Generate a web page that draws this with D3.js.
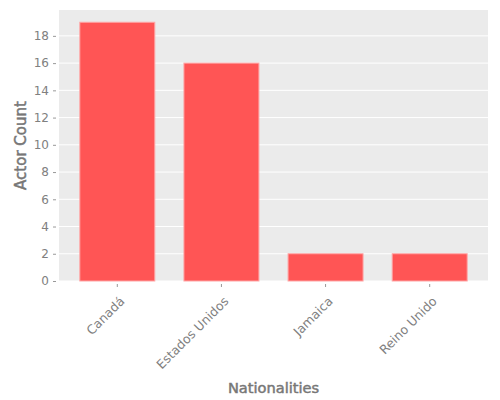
<!DOCTYPE html>
<html>
<head>
<meta charset="utf-8">
<script src="https://cdn.jsdelivr.net/npm/d3@7"></script>
<style>
  body { margin: 0; background: #fff; }
  svg { font-family: "DejaVu Sans", sans-serif; }
</style>
</head>
<body>
<svg id="chart"></svg>
<script>
var nationalities = ["Canadá", "Estados Unidos", "Jamaica", "Reino Unido"];
var actorCounts = [19, 16, 2, 2];
var yTicks = [0, 2, 4, 6, 8, 10, 12, 14, 16, 18];

var svgWidth = 500,
  svgHeight = 400;

var margin = { top: 10, right: 12, bottom: 119, left: 59 },
  chartWidth = svgWidth - margin.left - margin.right,
  chartHeight = svgHeight - margin.top - margin.bottom;

var svg = d3.select("#chart").attr("width", svgWidth).attr("height", svgHeight);

var g = svg
  .append("g")
  .attr("transform", "translate(" + margin.left + "," + margin.top + ")");

let xScale = d3
    .scaleBand()
    .domain(nationalities)
    .range([0, chartWidth])
    .paddingInner(0.28)
    .paddingOuter(0.2),
  yScale = d3.scaleLinear().domain([0, 19.9]).range([chartHeight, 0]);

// panel background
g.append("rect")
  .attr("width", chartWidth)
  .attr("height", chartHeight)
  .attr("fill", "#ebebeb");

// grid
g.append("g")
  .selectAll("line")
  .data(yTicks)
  .enter()
  .append("line")
  .attr("x1", 0)
  .attr("x2", chartWidth)
  .attr("y1", (d) => yScale(d))
  .attr("y2", (d) => yScale(d))
  .attr("stroke", "#fff")
  .attr("stroke-width", 1);

g.selectAll(".bar")
  .data(actorCounts)
  .enter()
  .append("rect")
  .attr("class", "bar")
  .attr("x", (d, i) => xScale(nationalities[i]))
  .attr("y", (d) => yScale(d))
  .attr("width", xScale.bandwidth())
  .attr("height", (d) => chartHeight - yScale(d))
  .attr("fill", "#ff5555")
  .attr("stroke", "#ffa5a5")
  .attr("stroke-width", 1);

// y axis: short ticks set a little away from the panel
var yAxis = g
  .append("g")
  .call(d3.axisLeft(yScale).tickValues(yTicks).tickSize(0).tickPadding(10))
  .call((a) => a.select(".domain").remove());
yAxis
  .selectAll(".tick line")
  .attr("x1", -6)
  .attr("x2", -3)
  .attr("stroke", "#999");
yAxis
  .selectAll(".tick text")
  .attr("fill", "#808080")
  .style("font-size", "12px")
  .style("font-family", "DejaVu Sans");

var xAxis = g
  .append("g")
  .attr("transform", "translate(0," + chartHeight + ")")
  .call(d3.axisBottom(xScale).tickSize(0))
  .call((a) => a.select(".domain").remove());
xAxis
  .selectAll(".tick line")
  .attr("y1", 3)
  .attr("y2", 6)
  .attr("stroke", "#999");
xAxis
  .selectAll(".tick text")
  .attr("fill", "#808080")
  .style("font-size", "12.5px")
  .style("font-family", "DejaVu Sans")
  .attr("text-anchor", "end")
  .attr("x", 0)
  .attr("y", 0)
  .attr("dy", 0)
  .attr("transform", "translate(8,21) rotate(-45)");

// axis titles, thickened slightly with a thin stroke
svg
  .append("text")
  .attr("x", margin.left + chartWidth / 2)
  .attr("y", 393)
  .attr("text-anchor", "middle")
  .attr("fill", "#777")
  .attr("stroke", "#777")
  .attr("stroke-width", 0.5)
  .attr("font-size", "14.6px")
  .text("Nationalities");

svg
  .append("text")
  .attr("transform", "translate(26," + (margin.top + chartHeight / 2) + ") rotate(-90)")
  .attr("text-anchor", "middle")
  .attr("fill", "#777")
  .attr("stroke", "#777")
  .attr("stroke-width", 0.5)
  .attr("font-size", "15px")
  .text("Actor Count");
</script>
</body>
</html>
